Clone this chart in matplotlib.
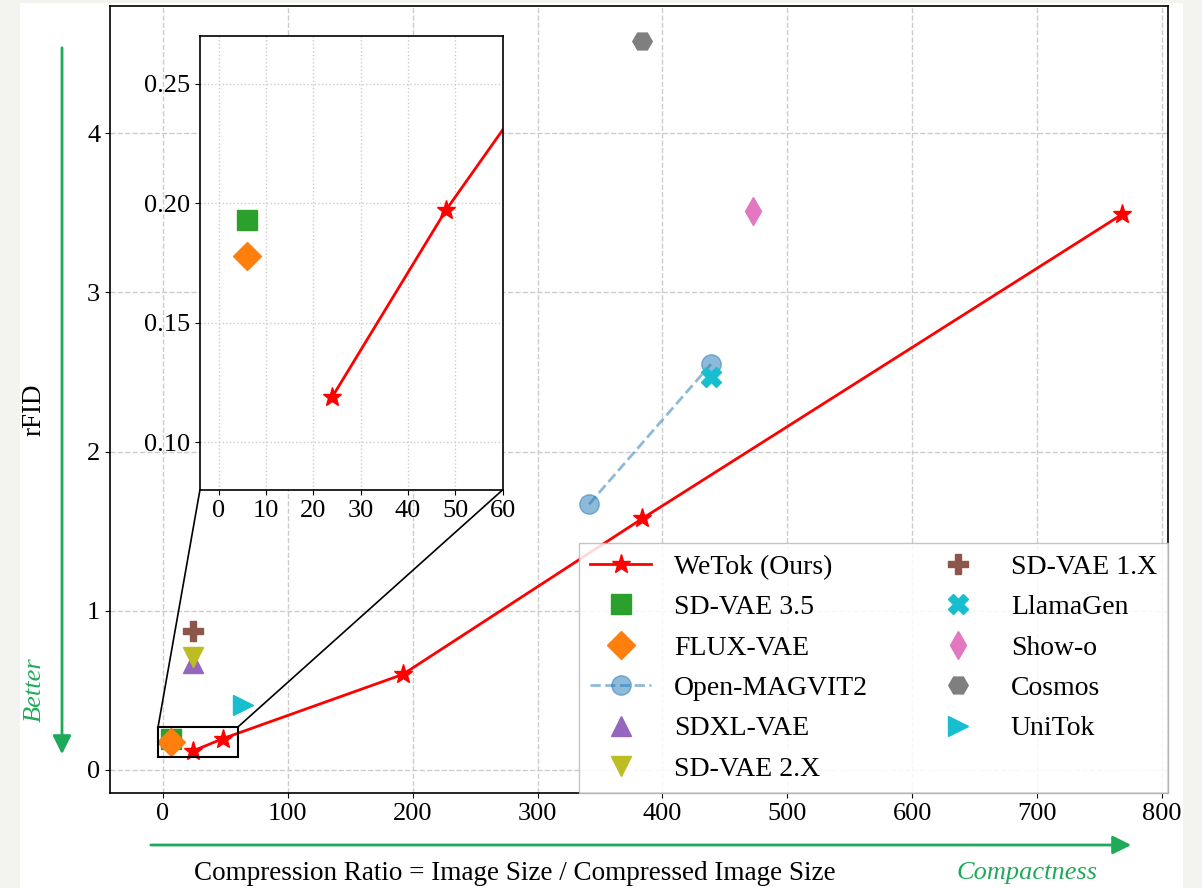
import matplotlib
matplotlib.use("Agg")
import matplotlib.pyplot as plt
from matplotlib.patches import Rectangle, ConnectionPatch, FancyArrowPatch

# WeTok curve
wetok_x = [24, 48, 192, 384, 768]
wetok_y = [0.119, 0.197, 0.60, 1.58, 3.49]

# Open-MAGVIT2 (two settings joined by a dashed line)
magvit_x = [341.3, 438.9]
magvit_y = [1.67, 2.55]

# single-point baselines (legend order)
names = ["SD-VAE 3.5", "FLUX-VAE", "SDXL-VAE", "SD-VAE 2.X",
         "SD-VAE 1.X", "LlamaGen", "Show-o", "Cosmos", "UniTok"]
ratio = [6, 6, 24, 24, 24, 438.9, 472.6, 384, 64]
rfid = [0.193, 0.178, 0.67, 0.71, 0.87, 2.47, 3.51, 4.58, 0.41]
markers = ["s", "D", "^", "v", "P", "X", "d", "H", ">"]
colors = ["tab:green", "tab:orange", "tab:purple", "tab:olive",
          "tab:brown", "tab:cyan", "tab:pink", "tab:gray", "tab:cyan"]

# zoomed region
zoom_x = (-4, 60)
zoom_y = (0.08, 0.27)

plt.rcParams["font.family"] = ["Liberation Serif", "DejaVu Serif"]
plt.rcParams["font.size"] = 19

W, H = 1202, 888
fig = plt.figure(figsize=(W / 100, H / 100), dpi=100, facecolor="#f3f3ef")
# white page area (screenshot has a thin grey border)
fig.patches.append(Rectangle((20 / W, 0), 1163 / W, 885 / H, transform=fig.transFigure,
                             facecolor="white", edgecolor="none", zorder=-10))

ax = fig.add_axes([110 / W, (H - 793) / H, 1058 / W, 787 / H])
green = "#1faa59"


def draw(a):
    a.plot(wetok_x, wetok_y, color="red", lw=2, marker="*", ms=14, label="WeTok (Ours)")
    for i, n in enumerate(names):
        a.plot(ratio[i], rfid[i], ls="none", marker=markers[i], ms=14,
               color=colors[i], label=n)
        if n == "FLUX-VAE":
            a.plot(magvit_x, magvit_y, ls="--", lw=2, marker="o", ms=14,
                   color="tab:blue", alpha=0.5, label="Open-MAGVIT2")


draw(ax)
ax.set_xlim(-42.5, 805)
ax.set_ylim(-0.145, 4.80)
ax.set_xticks(range(0, 801, 100))
ax.set_yticks(range(0, 5))
ax.grid(True, ls="--", color="#cccccc", lw=1)
ax.tick_params(labelsize=19)
for s in ax.spines.values():
    s.set_linewidth(1.2)

ax.set_xlabel("Compression Ratio = Image Size / Compressed Image Size", fontsize=19.5)
ax.xaxis.set_label_coords(0.383, -0.086)
ax.set_ylabel("rFID", fontsize=19.5)
ax.yaxis.set_label_coords(-0.06, 0.487)

leg = ax.legend(ncol=2, loc="lower right", bbox_to_anchor=(1, 0), borderaxespad=0,
                fontsize=20, fancybox=False, edgecolor="#bbbbbb", framealpha=0.85,
                columnspacing=2.15, handlelength=2.2, labelspacing=0.54)

# inset
axin = ax.inset_axes([0.085, 0.385, 0.286, 0.577])
draw(axin)
axin.set_xlim(*zoom_x)
axin.set_ylim(*zoom_y)
axin.set_xticks(range(0, 61, 10))
axin.set_yticks([0.10, 0.15, 0.20, 0.25])
axin.set_yticklabels(["0.10", "0.15", "0.20", "0.25"])
axin.grid(True, ls=":", color="#cccccc", lw=1)
axin.tick_params(labelsize=19)
for s in axin.spines.values():
    s.set_linewidth(1.2)

ax.add_patch(Rectangle((zoom_x[0], zoom_y[0]), zoom_x[1] - zoom_x[0], zoom_y[1] - zoom_y[0],
                       fill=False, edgecolor="black", lw=1.5, zorder=4))
for xa, xb in [(zoom_x[0], 0), (zoom_x[1], 1)]:
    cp = ConnectionPatch(xyA=(xa, zoom_y[1]), coordsA=ax.transData,
                         xyB=(xb, 0), coordsB=axin.transAxes, color="black", lw=1.2)
    fig.add_artist(cp)

# direction arrows
fig.add_artist(FancyArrowPatch((62 / W, (H - 45) / H), (62 / W, (H - 757) / H),
                               transform=fig.transFigure, arrowstyle="-|>",
                               mutation_scale=28, color=green, lw=2))
fig.add_artist(FancyArrowPatch((148 / W, (H - 845) / H), (1134 / W, (H - 845) / H),
                               transform=fig.transFigure, arrowstyle="-|>",
                               mutation_scale=28, color=green, lw=2))
fig.text(35 / W, (H - 690) / H, "Better", color=green, style="italic", fontsize=19,
         rotation=90, ha="center", va="center")
fig.text(1027 / W, (H - 873) / H, "Compactness", color=green, style="italic", fontsize=19,
         ha="center", va="center")

fig.savefig("out.png", dpi=100, facecolor=fig.get_facecolor())
